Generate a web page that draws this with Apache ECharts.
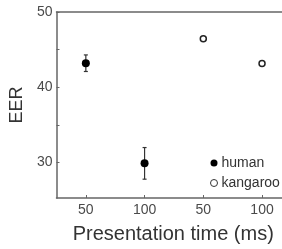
<!DOCTYPE html>
<html>
<head>
<meta charset="utf-8">
<script src="https://cdn.jsdelivr.net/npm/echarts@6/dist/echarts.min.js"></script>
<style>
	html,body{margin:0;padding:0;background:#fff;}
	#main{width:282px;height:249px;}
</style>
</head>
<body>
<div id="main"></div>
<script>
// positions on the x axis: 1,2 = human, 3,4 = kangaroo
var xTickPos = [1, 2, 3, 4];
var xTickLabels = ['50', '100', '50', '100'];
var yTicks = [30, 35, 40, 45, 50];
var yLabels = [30, 40, 50];

// [x, EER] and [x, errLow, errHigh]
var humanData = [[1, 43.2], [2, 29.9]];
var humanErr = [[1, 42.1, 44.3], [2, 27.8, 32.0]];
var kangarooData = [[3, 46.45], [4, 43.15]];

var chart = echarts.init(document.getElementById('main'));
var axisColor = '#666';
var textColor = '#4a4a4a';
var font = 'Liberation Sans, Arial, sans-serif';

var option = {
	animation: false,
	grid: {left: 53, right: 0, top: 12, bottom: 49},
	legend: {
		orient: 'vertical',
		left: 205,
		top: 151,
		itemWidth: 7,
		itemHeight: 7,
		itemGap: 6,
		data: [
			{name: 'human', itemStyle: {color: '#000'}},
			{name: 'kangaroo', itemStyle: {color: '#fff', borderColor: '#333', borderWidth: 1}}
		],
		textStyle: {fontSize: 14, lineHeight: 14, color: '#333', fontFamily: font, padding: [0, 0, 0, -1]}
	},
	xAxis: [{
		type: 'value',
		min: 0.5,
		max: 4.34,
		splitLine: {show: false},
		axisLine: {lineStyle: {color: axisColor, width: 1.5}},
		axisTick: {inside: true, length: 3, customValues: xTickPos, lineStyle: {color: axisColor}},
		axisLabel: {
			customValues: xTickPos,
			margin: 5,
			fontSize: 14,
			color: textColor,
			fontFamily: font,
			formatter: function(v){ return xTickLabels[xTickPos.indexOf(v)]; }
		},
		name: 'Presentation time (ms)',
		nameLocation: 'middle',
		nameGap: 26,
		nameTextStyle: {fontSize: 20, color: '#333', fontFamily: font, padding: [0, 0, 0, 8]}
	}, {
		type: 'value',
		position: 'top',
		min: 0.5,
		max: 4.34,
		splitLine: {show: false},
		axisLine: {show: true, lineStyle: {color: axisColor, width: 1.5}},
		axisTick: {show: false},
		axisLabel: {show: false}
	}],
	yAxis: {
		type: 'value',
		min: 25.3,
		max: 50,
		splitLine: {show: false},
		axisLine: {show: true, lineStyle: {color: axisColor, width: 1.5}},
		axisTick: {inside: true, length: 3, customValues: yTicks, lineStyle: {color: axisColor}},
		axisLabel: {customValues: yLabels, margin: 4, fontSize: 14, color: textColor, fontFamily: font},
		name: 'EER',
		nameLocation: 'middle',
		nameGap: 27,
		nameTextStyle: {fontSize: 18, color: '#333', fontFamily: font}
	},
	series: [{
		name: 'errbar',
		type: 'custom',
		data: humanErr,
		z: 2,
		renderItem: function(params, api){
			var lo = api.coord([api.value(0), api.value(1)]);
			var hi = api.coord([api.value(0), api.value(2)]);
			var w = 2;
			var st = {stroke: '#333', lineWidth: 1.2};
			return {
				type: 'group',
				children: [
					{type: 'line', shape: {x1: lo[0], y1: lo[1], x2: hi[0], y2: hi[1]}, style: st},
					{type: 'line', shape: {x1: lo[0]-w, y1: lo[1], x2: lo[0]+w, y2: lo[1]}, style: st},
					{type: 'line', shape: {x1: hi[0]-w, y1: hi[1], x2: hi[0]+w, y2: hi[1]}, style: st}
				]
			};
		}
	}, {
		name: 'human',
		type: 'scatter',
		symbol: 'circle',
		symbolSize: 8,
		z: 3,
		itemStyle: {color: '#000', opacity: 1},
		data: humanData
	}, {
		name: 'kangaroo',
		type: 'scatter',
		symbol: 'circle',
		symbolSize: 6,
		z: 3,
		itemStyle: {color: '#fff', borderColor: '#222', borderWidth: 1.5, opacity: 1},
		data: kangarooData
	}]
};
chart.setOption(option);
</script>
</body>
</html>
